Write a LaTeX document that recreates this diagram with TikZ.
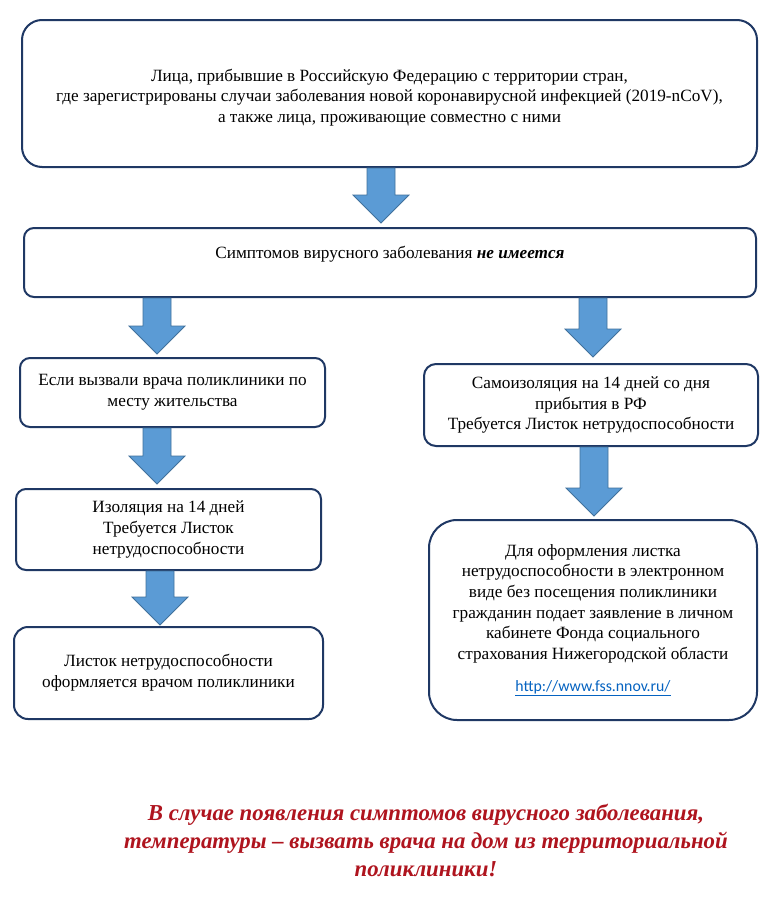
\documentclass[tikz,border=0pt]{standalone}
\usepackage{fontspec}
\setmainfont{Liberation Serif}
\newfontfamily\urlfont{Carlito}
\usetikzlibrary{calc}
\definecolor{boxline}{RGB}{31,56,100}
\definecolor{arrfill}{RGB}{91,155,213}
\definecolor{arredge}{RGB}{65,113,156}
\definecolor{redtxt}{RGB}{175,20,30}
\definecolor{urlblue}{RGB}{5,99,193}
\tikzset{
  box/.style={draw=boxline, line width=2pt, fill=white, align=center,
    font=\fontsize{17.2pt}{20.7pt}\selectfont, inner sep=0pt},
  blockarrow/.style={draw=arredge, fill=arrfill, line width=0.8pt, line join=miter,
    to path={let \p1=(\tikztostart), \p2=(\tikztotarget) in
      (\x2-14pt,\y1) -- (\x2+14pt,\y1) -- (\x2+14pt,\y2+28pt) -- (\x2+28pt,\y2+28pt)
      -- (\x2,\y2) -- (\x2-28pt,\y2+28pt) -- (\x2-14pt,\y2+28pt) -- cycle}}
}
\begin{document}
\begin{tikzpicture}[x=1pt,y=-1pt]
\useasboundingbox[fill=white] (0,0) rectangle (784,900);
% boxes
\node[box, rounded corners=20pt, minimum width=735pt, minimum height=147pt] (top) at (389.5,93.5)
 {\mbox{}\\[-0.5pt]
  Лица, прибывшие в Российскую Федерацию с территории стран,\\
  где зарегистрированы случаи заболевания новой коронавирусной инфекцией (2019-nCoV),\\
  а также лица, проживающие совместно с ними};
\node[box, rounded corners=10pt, minimum width=732pt, minimum height=69pt] (sym) at (390,262.5)
 {Симптомов вирусного заболевания \textbf{\textit{не имеется}}\\[0pt]\mbox{}};
\node[box, rounded corners=10pt, minimum width=305pt, minimum height=69pt] (lb1) at (172.5,392.5)
 {Если вызвали врача поликлиники по\\ месту жительства};
\node[box, rounded corners=10pt, minimum width=305pt, minimum height=81pt] (lb2) at (168.5,529.5)
 {Изоляция на 14 дней\\ Требуется Листок\\ нетрудоспособности};
\node[box, rounded corners=14pt, minimum width=309pt, minimum height=92pt] (lb3) at (168.5,673)
 {Листок нетрудоспособности\\ оформляется врачом поликлиники};
\node[box, rounded corners=12pt, minimum width=334pt, minimum height=82pt] (rb1) at (591,405)
 {Самоизоляция на 14 дней со дня\\ прибытия в РФ\\ Требуется Листок нетрудоспособности};
\node[box, rounded corners=28pt, minimum width=328pt, minimum height=200pt] (rb2) at (593,620)
 {Для оформления листка\\ нетрудоспособности в электронном\\ виде без посещения поликлиники\\
  гражданин подает заявление в личном\\ кабинете Фонда социального\\ страхования Нижегородской области\\[11pt]
  {\urlfont\fontsize{15.8pt}{17pt}\selectfont\color{urlblue}\underline{http://www.fss.nnov.ru/}}};
% arrows
\draw[blockarrow] (top.south) to ([xshift=-9pt,yshift=4pt]sym.north);
\draw[blockarrow] (sym.south) to ([xshift=-15.5pt,yshift=3pt]lb1.north);
\draw[blockarrow] (sym.south) to ([xshift=2pt,yshift=6pt]rb1.north);
\draw[blockarrow] (lb1.south) to ([xshift=-11.5pt,yshift=4pt]lb2.north);
\draw[blockarrow] (lb2.south) to ([xshift=-8.5pt,yshift=1pt]lb3.north);
\draw[blockarrow] (rb1.south) to ([xshift=1pt,yshift=3pt]rb2.north);
% red note
\node[text=redtxt, align=center, font=\fontsize{22.8pt}{28pt}\selectfont\bfseries\itshape] (note) at (426,840)
 {В случае появления симптомов вирусного заболевания,\\
  температуры – вызвать врача на дом из территориальной\\
  поликлиники!};
\end{tikzpicture}
\end{document}
